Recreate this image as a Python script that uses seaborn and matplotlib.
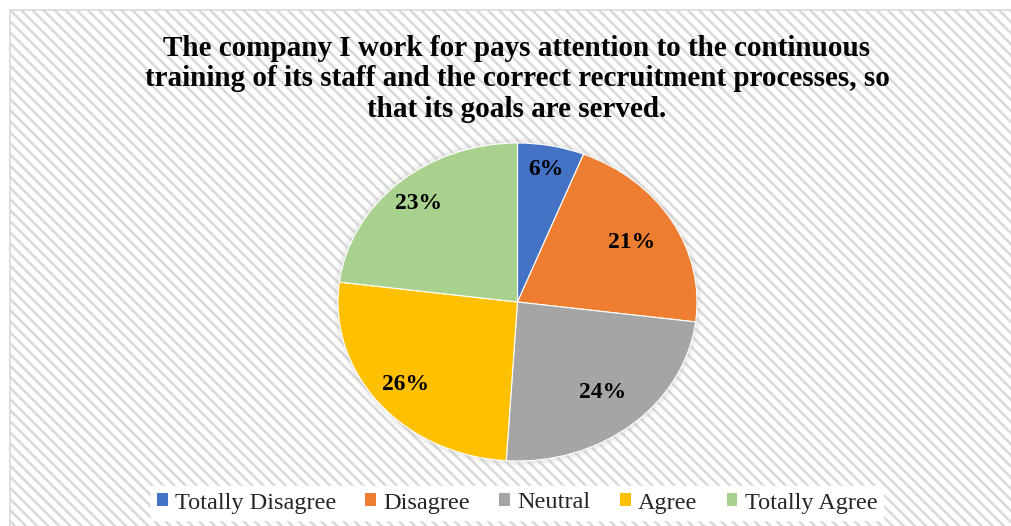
import numpy as np
import matplotlib
matplotlib.use("Agg")
import matplotlib.pyplot as plt
from matplotlib.patches import Rectangle, Patch, Ellipse
import seaborn as sns

# Survey responses
categories = ["Totally Disagree", "Disagree", "Neutral", "Agree", "Totally Agree"]
shares = [6, 21, 24, 26, 23]
title = ("The company I work for pays attention to the continuous\n"
         "training of its staff and the correct recruitment processes, so\n"
         "that its goals are served.")

sns.set_theme(style="white")
plt.rcParams["font.family"] = ["Liberation Serif", "DejaVu Serif"]
plt.rcParams["hatch.color"] = "#f0f0f0"
plt.rcParams["hatch.linewidth"] = 1.8

palette = sns.color_palette(["#4472C4", "#ED7D31", "#A5A5A5", "#FFC000", "#A9D18E"])

W, H = 1011, 526
fig = plt.figure(figsize=(W / 100, H / 100), dpi=100, facecolor="white")

# Striped chart-area background with a thin frame
bg = fig.add_axes([0, 0, 1, 1])
bg.set_xlim(0, W)
bg.set_ylim(H, 0)
bg.axis("off")
bg.add_patch(Rectangle((10, 10), W, H, facecolor="white", edgecolor="#d9d9d9",
                       hatch="\\\\\\", linewidth=1.2))

# Pie area (elliptical, as in the stretched original)
cx, cy, rx, ry = 517.5, 302, 179.5, 159
ax = fig.add_axes([(cx - rx) / W, 1 - (cy + ry) / H, 2 * rx / W, 2 * ry / H])
ax.set_aspect("auto")

# faint soft glow around the pie
for i in range(5, 0, -1):
    ax.add_patch(Ellipse((0, 0), 2 + 0.012 * i, 2 + 0.014 * i, facecolor="#c8c8c8",
                         edgecolor="none", alpha=0.08, clip_on=False, zorder=0))

wedges, _ = ax.pie(shares, colors=palette, startangle=90, counterclock=False,
                   radius=1.0, wedgeprops=dict(linewidth=0.8, edgecolor="white"))
ax.set_aspect("auto")
ax.set_xlim(-1, 1)
ax.set_ylim(-1, 1)

# Percentage labels placed along each wedge's bisector
label_r = [0.85, 0.74, 0.74, 0.81, 0.83]
for w, v, r in zip(wedges, shares, label_r):
    mid = np.deg2rad((w.theta1 + w.theta2) / 2)
    ax.text(r * np.cos(mid), r * np.sin(mid), f"{v}%", ha="center", va="center",
            fontsize=17, fontweight="bold", color="black")

fig.text(517 / W, 1 - 79 / H, title, ha="center", va="center", fontsize=21,
         fontweight="bold", linespacing=1.19, color="black")

handles = [Patch(facecolor=c, edgecolor="none") for c in palette]
leg = fig.legend(handles, categories, loc="center", bbox_to_anchor=(517 / W, 1 - 503 / H),
                 ncol=5, frameon=True, fontsize=17.5, handlelength=0.45, handleheight=0.45,
                 handletextpad=0.3, columnspacing=1.2, borderpad=0.25, fancybox=False)
leg.get_frame().set_facecolor("white")
leg.get_frame().set_edgecolor("white")
leg.get_frame().set_alpha(1)

fig.savefig("out.png", dpi=100, facecolor="white")
